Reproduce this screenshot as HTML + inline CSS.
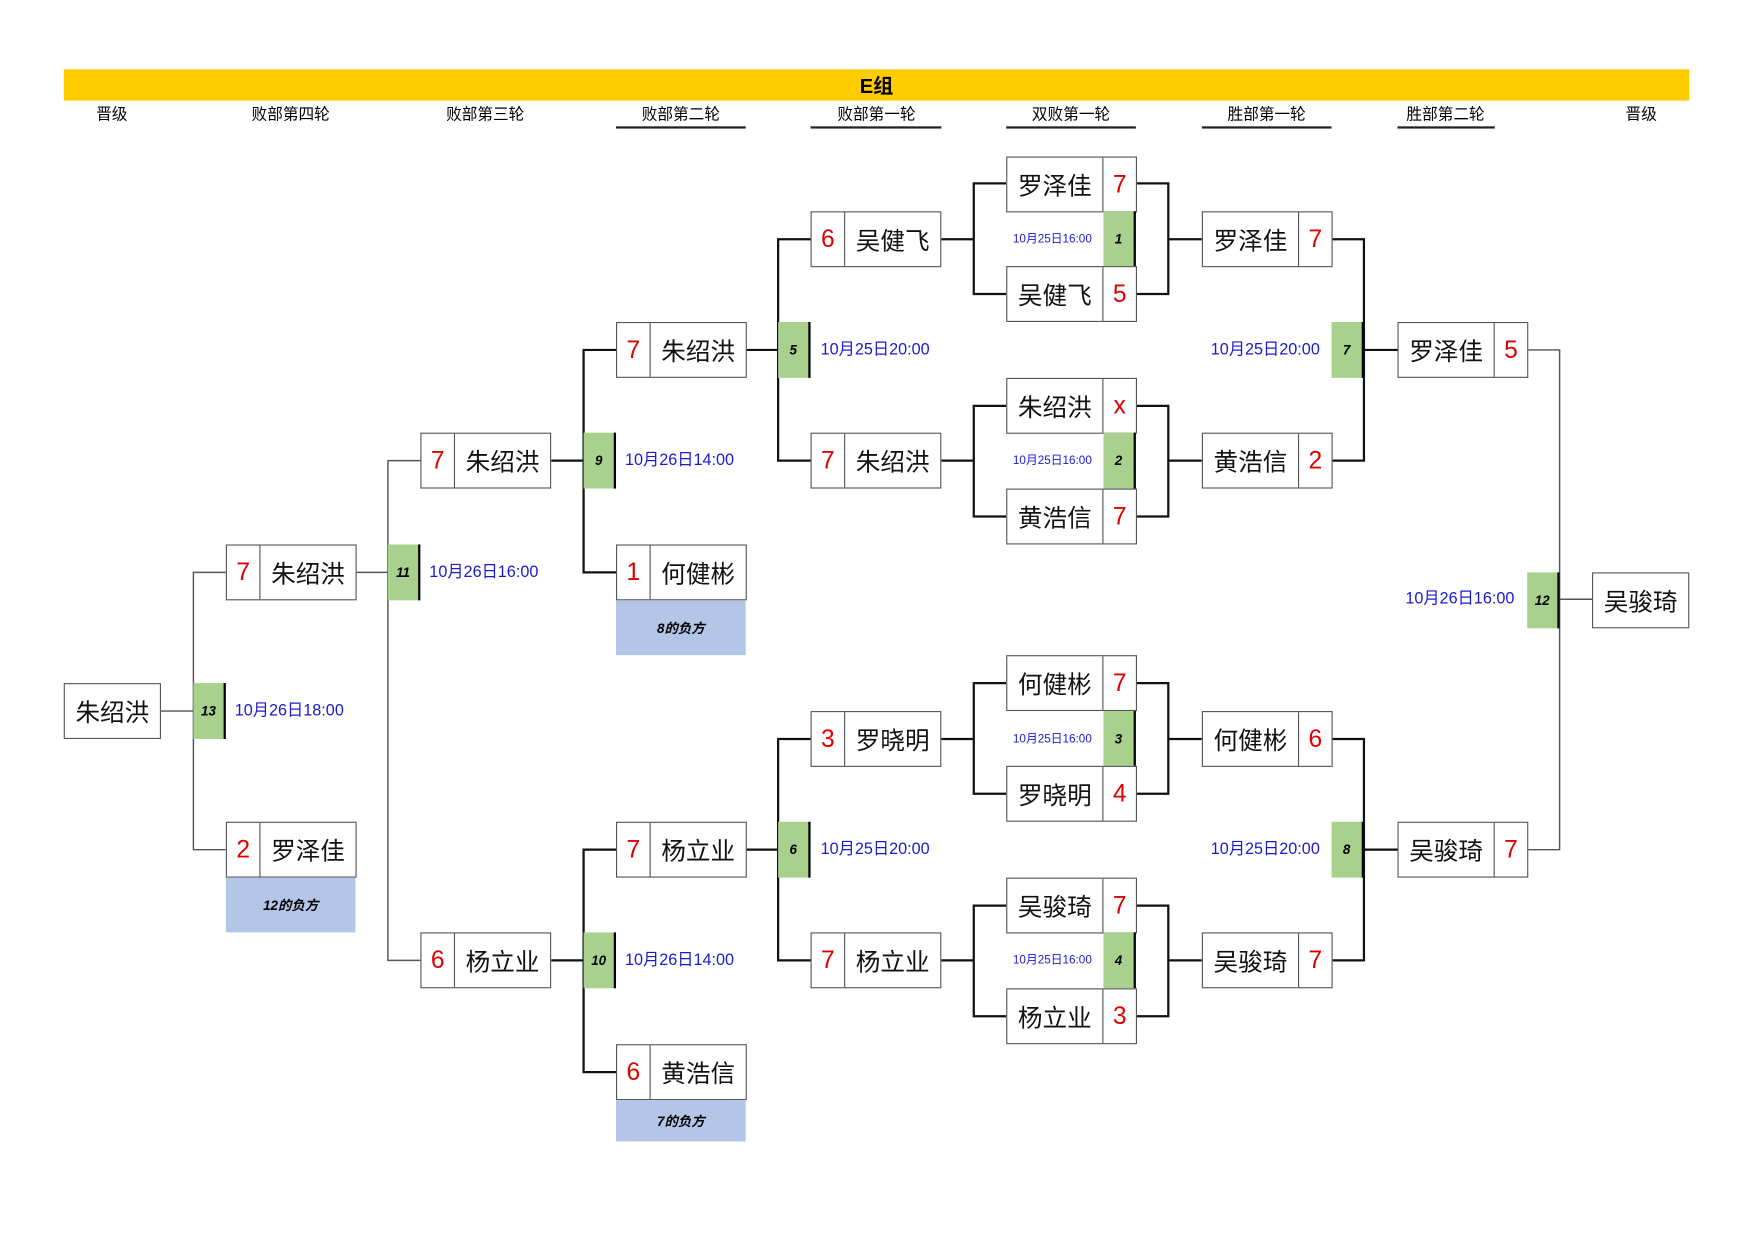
<!DOCTYPE html>
<html><head><meta charset="utf-8"><style>
html,body{margin:0;padding:0;background:#fff;overflow:hidden;width:1753px;height:1240px}
#w{position:absolute;left:0;top:0;width:1568px;height:1109px;transform:scale(1.11799);transform-origin:0 0;font-family:"Liberation Sans","Noto Sans CJK SC",sans-serif}
.b{position:absolute;height:50px;box-sizing:border-box;border:1px solid #555;background:#fff;display:flex;font-size:22px;color:#111}
.s{width:29px;color:#e00000;display:flex;align-items:center;justify-content:center;flex:none}
.sl{border-right:1px solid #555}.sr{border-left:1px solid #555}
.n{flex:1;display:flex;align-items:center;justify-content:center}
.g{position:absolute;width:29px;height:50px;box-sizing:border-box;background:#a9d18e;border-right:2px solid #000;font-size:12px;font-weight:bold;font-style:italic;display:flex;align-items:center;justify-content:center}
.d{position:absolute;color:#1a1ad0;font-size:14.5px;line-height:20px}
.ds{position:absolute;color:#1a1ad0;font-size:10.5px;line-height:14px}
.bl{position:absolute;background:#b4c6e7;font-size:12px;font-weight:bold;font-style:italic;display:flex;align-items:center;justify-content:center;width:116px}
.h{position:absolute;top:93px;font-size:14px;line-height:18px;transform:translateX(-50%);white-space:nowrap}
.u{position:absolute;top:113px;height:2px;background:#222}
</style></head><body><div id="w">
<div style="position:absolute;left:57px;top:62px;width:1454px;height:28px;background:#ffcc00;font-weight:bold;font-size:18px;display:flex;align-items:center;justify-content:center">E组</div>
<div class="h" style="left:100px">晋级</div>
<div class="h" style="left:260px">败部第四轮</div>
<div class="h" style="left:434px">败部第三轮</div>
<div class="h" style="left:609px">败部第二轮</div><div class="u" style="left:551px;width:116px"></div>
<div class="h" style="left:784px">败部第一轮</div><div class="u" style="left:725px;width:117px"></div>
<div class="h" style="left:958px">双败第一轮</div><div class="u" style="left:900px;width:116px"></div>
<div class="h" style="left:1133px">胜部第一轮</div><div class="u" style="left:1075px;width:116px"></div>
<div class="h" style="left:1293px">胜部第二轮</div><div class="u" style="left:1250px;width:87px"></div>
<div class="h" style="left:1468px">晋级</div>

<svg style="position:absolute;left:0;top:0" width="1568" height="1109" fill="none" stroke="#111" stroke-width="2">
<!-- double loss brackets -->
<path d="M900 164H871V263H900M842 214H871M1016 164H1045V263H1016M1045 214H1075"/>
<path d="M900 363H871V462H900M842 412H871M1016 363H1045V462H1016M1045 412H1075"/>
<path d="M900 611H871V710H900M842 661H871M1016 611H1045V710H1016M1045 661H1075"/>
<path d="M900 810H871V909H900M842 859H871M1016 810H1045V909H1016M1045 859H1075"/>
<!-- loser r1 -->
<path d="M725 214H696V412H725M667 313H696"/>
<path d="M725 661H696V859H725M667 760H696"/>
<!-- loser r2 -->
<path d="M551 313H522V512H551M493 412H522"/>
<path d="M551 760H522V959H551M493 859H522"/>
<!-- winners -->
<path d="M1191 214H1220V412H1191M1220 313H1250"/>
<path d="M1191 661H1220V859H1191M1220 760H1250"/>
<g stroke="#555" stroke-width="1.3">
<path d="M376 412H347V859H376M318 512H347"/>
<path d="M202 512H173V760H202M144 636H173"/>
<path d="M1366 313H1395V760H1366M1395 536H1424"/>
</g>
</svg>

<!-- double loss column -->
<div class="b" style="left:900px;top:140px;width:117px"><span class="n">罗泽佳</span><span class="s sr">7</span></div>
<div class="g" style="left:987px;top:189px">1</div><div class="ds" style="left:906px;top:207px">10月25日16:00</div>
<div class="b" style="left:900px;top:238px;width:117px"><span class="n">吴健飞</span><span class="s sr">5</span></div>
<div class="b" style="left:900px;top:338px;width:117px"><span class="n">朱绍洪</span><span class="s sr">x</span></div>
<div class="g" style="left:987px;top:387px">2</div><div class="ds" style="left:906px;top:405px">10月25日16:00</div>
<div class="b" style="left:900px;top:437px;width:117px"><span class="n">黄浩信</span><span class="s sr">7</span></div>
<div class="b" style="left:900px;top:586px;width:117px"><span class="n">何健彬</span><span class="s sr">7</span></div>
<div class="g" style="left:987px;top:636px">3</div><div class="ds" style="left:906px;top:654px">10月25日16:00</div>
<div class="b" style="left:900px;top:685px;width:117px"><span class="n">罗晓明</span><span class="s sr">4</span></div>
<div class="b" style="left:900px;top:785px;width:117px"><span class="n">吴骏琦</span><span class="s sr">7</span></div>
<div class="g" style="left:987px;top:834px">4</div><div class="ds" style="left:906px;top:852px">10月25日16:00</div>
<div class="b" style="left:900px;top:884px;width:117px"><span class="n">杨立业</span><span class="s sr">3</span></div>

<!-- loser r1 -->
<div class="b" style="left:725px;top:189px;width:117px"><span class="s sl">6</span><span class="n">吴健飞</span></div>
<div class="b" style="left:725px;top:387px;width:117px"><span class="s sl">7</span><span class="n">朱绍洪</span></div>
<div class="b" style="left:725px;top:636px;width:117px"><span class="s sl">3</span><span class="n">罗晓明</span></div>
<div class="b" style="left:725px;top:834px;width:117px"><span class="s sl">7</span><span class="n">杨立业</span></div>
<div class="g" style="left:696px;top:288px">5</div><div class="d" style="left:734px;top:303px">10月25日20:00</div>
<div class="g" style="left:696px;top:735px">6</div><div class="d" style="left:734px;top:750px">10月25日20:00</div>

<!-- loser r2 -->
<div class="b" style="left:551px;top:288px;width:117px"><span class="s sl">7</span><span class="n">朱绍洪</span></div>
<div class="b" style="left:551px;top:487px;width:117px"><span class="s sl">1</span><span class="n">何健彬</span></div>
<div class="bl" style="left:551px;top:537px;height:49px">8的负方</div>
<div class="b" style="left:551px;top:735px;width:117px"><span class="s sl">7</span><span class="n">杨立业</span></div>
<div class="b" style="left:551px;top:934px;width:117px"><span class="s sl">6</span><span class="n">黄浩信</span></div>
<div class="bl" style="left:551px;top:984px;height:37px">7的负方</div>
<div class="g" style="left:522px;top:387px">9</div><div class="d" style="left:559px;top:402px">10月26日14:00</div>
<div class="g" style="left:522px;top:834px">10</div><div class="d" style="left:559px;top:849px">10月26日14:00</div>

<!-- loser r3 -->
<div class="b" style="left:376px;top:387px;width:117px"><span class="s sl">7</span><span class="n">朱绍洪</span></div>
<div class="b" style="left:376px;top:834px;width:117px"><span class="s sl">6</span><span class="n">杨立业</span></div>
<div class="g" style="left:347px;top:487px">11</div><div class="d" style="left:384px;top:502px">10月26日16:00</div>

<!-- loser r4 -->
<div class="b" style="left:202px;top:487px;width:117px"><span class="s sl">7</span><span class="n">朱绍洪</span></div>
<div class="b" style="left:202px;top:735px;width:117px"><span class="s sl">2</span><span class="n">罗泽佳</span></div>
<div class="bl" style="left:202px;top:785px;height:49px">12的负方</div>
<div class="g" style="left:173px;top:611px">13</div><div class="d" style="left:210px;top:626px">10月26日18:00</div>
<div class="b" style="left:57px;top:611px;width:87px"><span class="n">朱绍洪</span></div>

<!-- winners -->
<div class="b" style="left:1075px;top:189px;width:117px"><span class="n">罗泽佳</span><span class="s sr">7</span></div>
<div class="b" style="left:1075px;top:387px;width:117px"><span class="n">黄浩信</span><span class="s sr">2</span></div>
<div class="b" style="left:1075px;top:636px;width:117px"><span class="n">何健彬</span><span class="s sr">6</span></div>
<div class="b" style="left:1075px;top:834px;width:117px"><span class="n">吴骏琦</span><span class="s sr">7</span></div>
<div class="g" style="left:1191px;top:288px">7</div><div class="d" style="left:1083px;top:303px">10月25日20:00</div>
<div class="g" style="left:1191px;top:735px">8</div><div class="d" style="left:1083px;top:750px">10月25日20:00</div>
<div class="b" style="left:1250px;top:288px;width:117px"><span class="n">罗泽佳</span><span class="s sr">5</span></div>
<div class="b" style="left:1250px;top:735px;width:117px"><span class="n">吴骏琦</span><span class="s sr">7</span></div>
<div class="g" style="left:1366px;top:512px">12</div><div class="d" style="left:1257px;top:526px">10月26日16:00</div>
<div class="b" style="left:1424px;top:512px;width:87px"><span class="n">吴骏琦</span></div>
</div></body></html>
